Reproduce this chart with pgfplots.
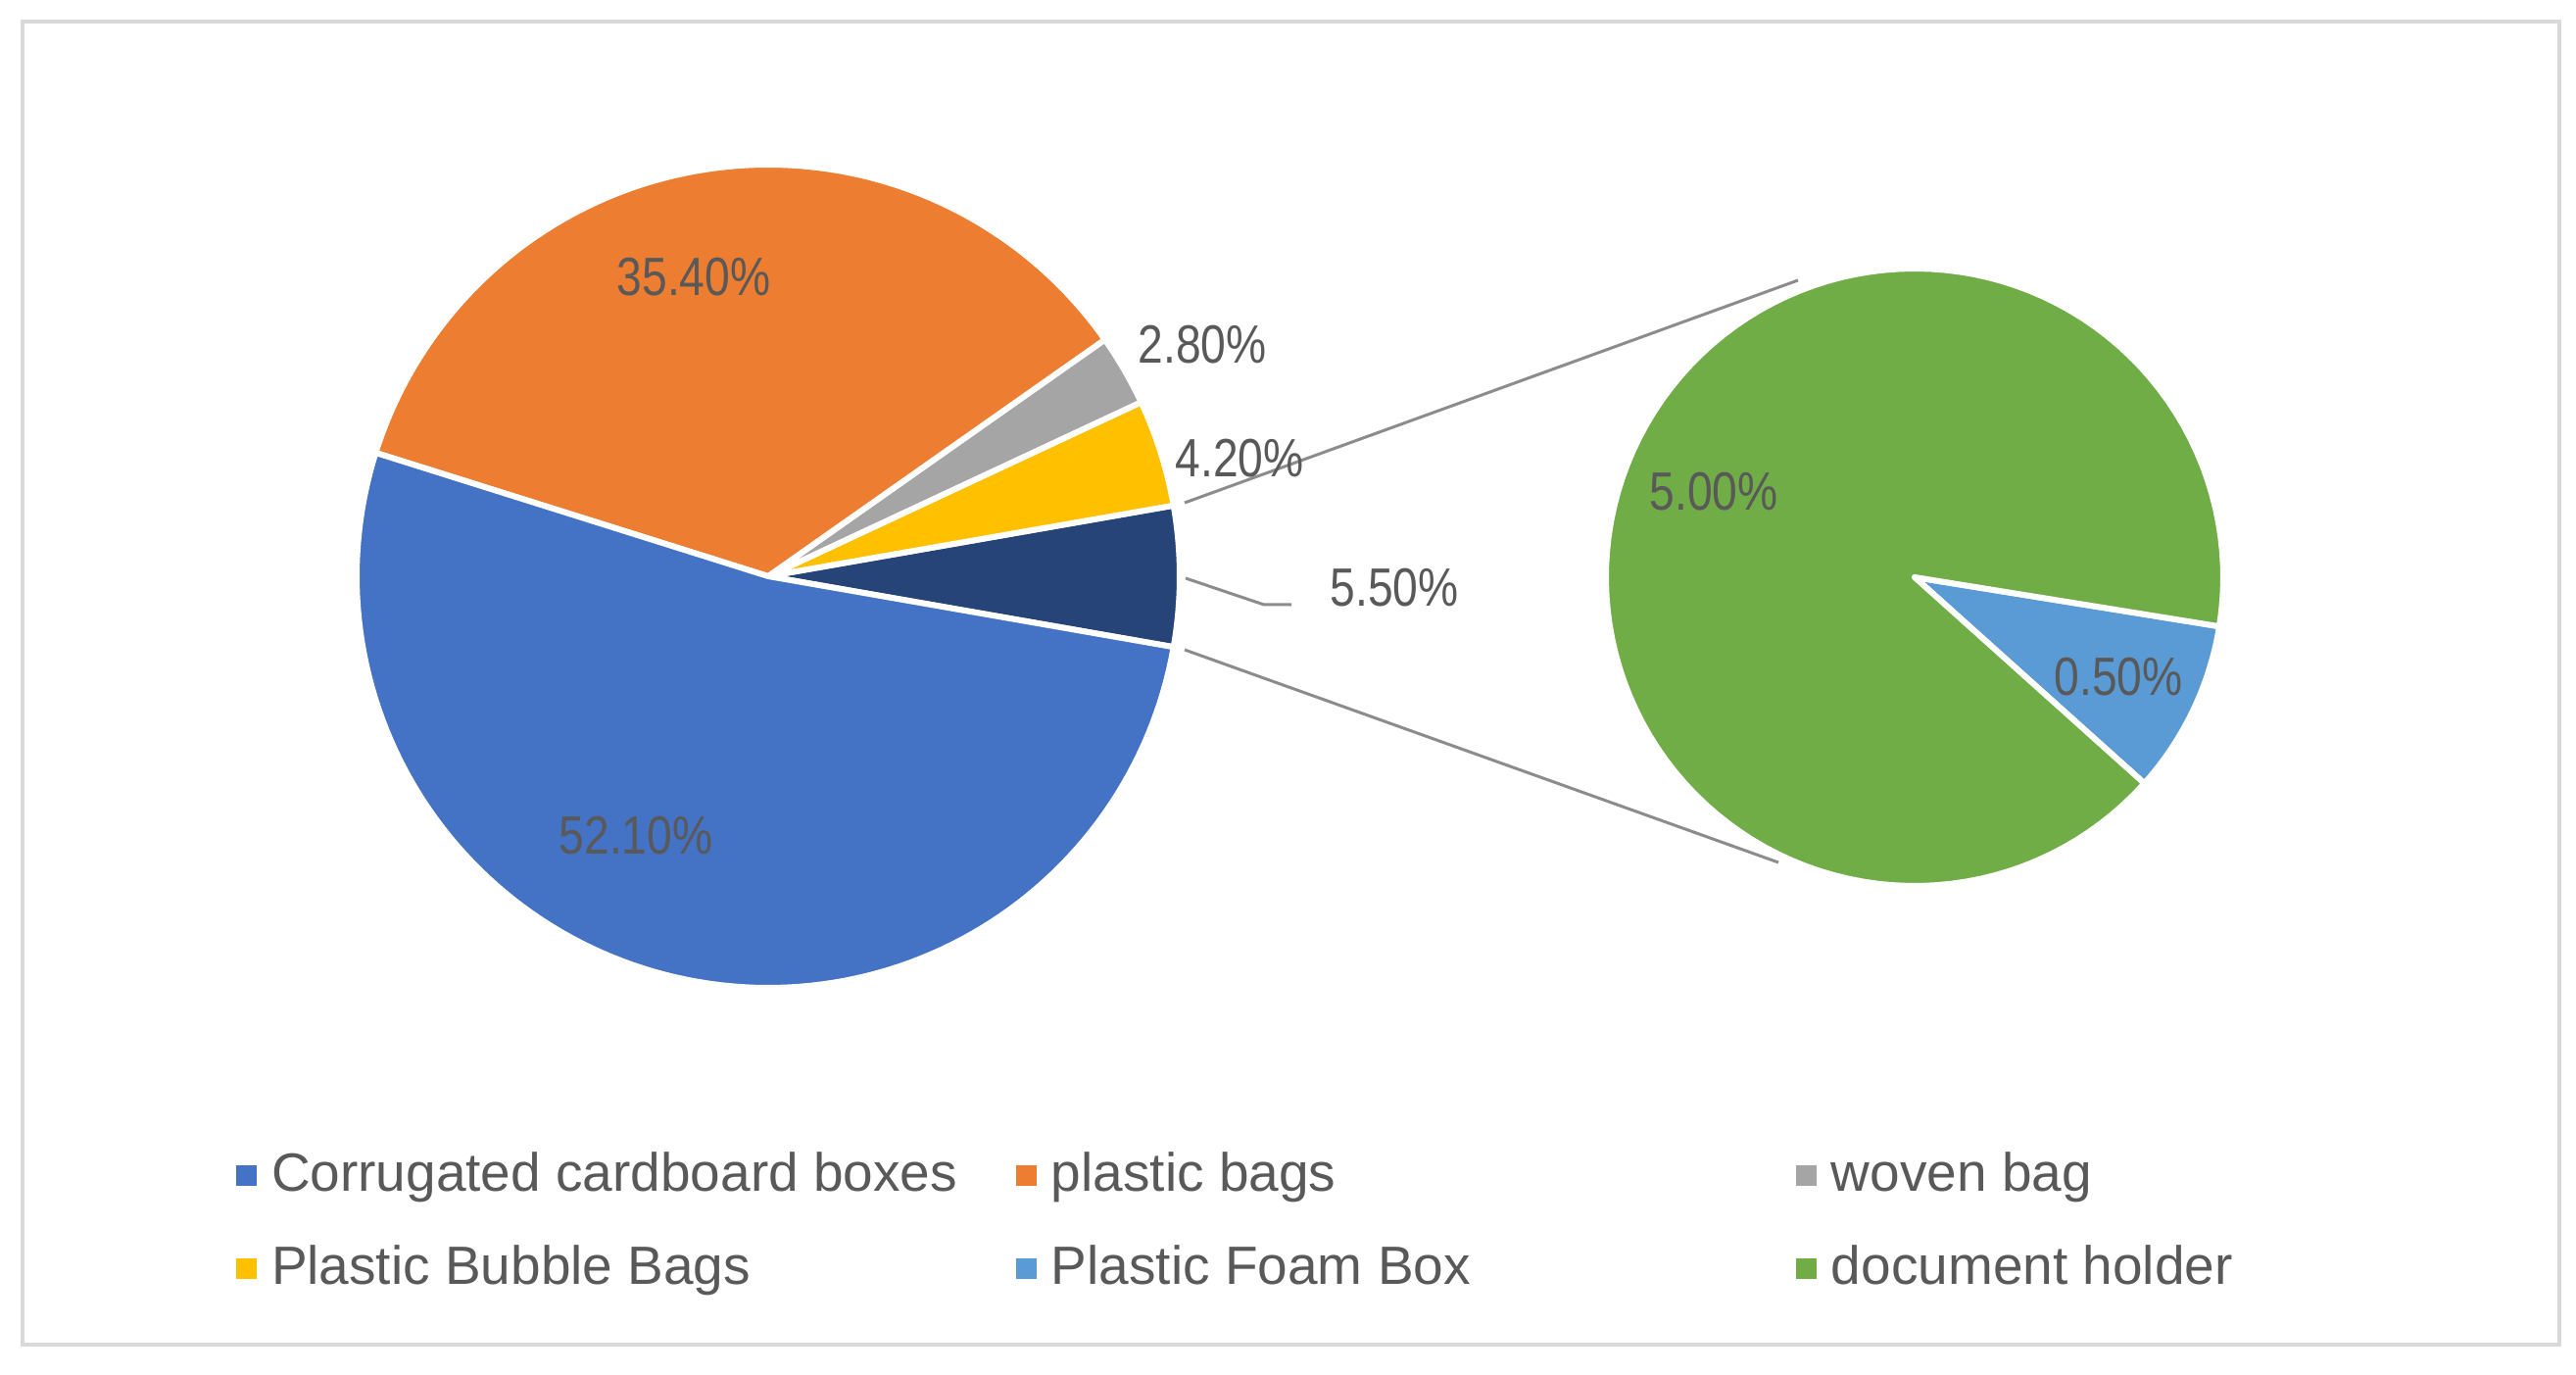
\documentclass[border=0pt]{standalone}
\usepackage{fontspec}
\setmainfont{Liberation Sans}
\newfontfamily\labfont[FakeStretch=0.84]{Liberation Sans}
\usepackage{pgfplots}
\pgfplotsset{compat=1.18}

\definecolor{cblue}{HTML}{4472C4}
\definecolor{corange}{HTML}{ED7D31}
\definecolor{cgray}{HTML}{A5A5A5}
\definecolor{cyellow}{HTML}{FFC000}
\definecolor{cnavy}{HTML}{264478}
\definecolor{clblue}{HTML}{5B9BD5}
\definecolor{cgreen}{HTML}{70AD47}
\definecolor{txt}{HTML}{595959}
\definecolor{lead}{HTML}{8C8C8C}
\definecolor{frame}{HTML}{D9D9D9}

% slice of a pie: {cx}{cy}{r}{start %}{value %}{colour}
\newcommand{\slice}[6]{%
  \addplot[forget plot, fill=#6, draw=white, line width=1.2pt, line join=round,
    domain={(#4)*3.6}:{(#4+#5)*3.6}, samples=120]
    ({#1+#3*cos(x)},{#2-#3*sin(x)}) -- (axis cs:#1,#2) -- cycle;}

\begin{document}
\begin{tikzpicture}
\begin{axis}[
  width=525.8pt, height=280.6pt, scale only axis,
  xmin=0, xmax=2629, ymin=0, ymax=1403, y dir=reverse,
  axis lines=none, clip=false,
  legend columns=3,
  legend cell align=left,
  legend image code/.code={\fill[#1] (0pt,-1.9pt) rectangle (3.8pt,1.9pt);},
  legend style={at={(axis cs:241,1176)}, anchor=north west, draw=none, fill=none,
    inner sep=0pt, outer sep=0pt, font=\fontsize{11}{13}\selectfont, text=txt,
    nodes={inner sep=0pt}, row sep=9.4pt,
    /tikz/every odd column/.append style={column sep=3pt}},
]
\path (axis cs:0,0) rectangle (axis cs:2629,1403);
\draw[frame, line width=0.8pt] (axis cs:23,22) rectangle (axis cs:2612,1372);

% main pie (percent of total), "other" slice centred on the right
\slice{784}{588}{420}{-2.75}{5.5}{cnavy}
\slice{784}{588}{420}{2.75}{4.2}{cyellow}
\slice{784}{588}{420}{6.95}{2.8}{cgray}
\slice{784}{588}{420}{9.75}{35.4}{corange}
\slice{784}{588}{420}{45.15}{52.1}{cblue}

% second pie: split of the 5.5 % (5.0 + 0.5)
\slice{1954}{589}{315}{-11.636}{9.091}{clblue}
\slice{1954}{589}{315}{-2.545}{90.909}{cgreen}

% connectors and leader
\draw[lead, line width=0.6pt] (axis cs:1209,513) -- (axis cs:1835,286);
\draw[lead, line width=0.6pt] (axis cs:1209,663) -- (axis cs:1815,880);
\draw[lead, line width=0.6pt] (axis cs:1210,590) -- (axis cs:1290,617) -- (axis cs:1318,617);

% data labels
\begin{scope}[every node/.style={font=\labfont\fontsize{11}{13}\selectfont, text=txt, inner sep=0pt}]
\node at (axis cs:708,283) {35.40\%};
\node at (axis cs:649,853) {52.10\%};
\node at (axis cs:1227,352) {2.80\%};
\node at (axis cs:1265,468) {4.20\%};
\node at (axis cs:1423,600) {5.50\%};
\node at (axis cs:1749,502) {5.00\%};
\node at (axis cs:2162,691) {0.50\%};
\end{scope}

\addlegendimage{cblue}\addlegendentry{\makebox[152pt][l]{Corrugated cardboard boxes}}
\addlegendimage{corange}\addlegendentry{\makebox[152pt][l]{plastic bags}}
\addlegendimage{cgray}\addlegendentry{\makebox[152pt][l]{woven bag}}
\addlegendimage{cyellow}\addlegendentry{\makebox[152pt][l]{Plastic Bubble Bags}}
\addlegendimage{clblue}\addlegendentry{\makebox[152pt][l]{Plastic Foam Box}}
\addlegendimage{cgreen}\addlegendentry{\makebox[152pt][l]{document holder}}
\end{axis}
\end{tikzpicture}
\end{document}
